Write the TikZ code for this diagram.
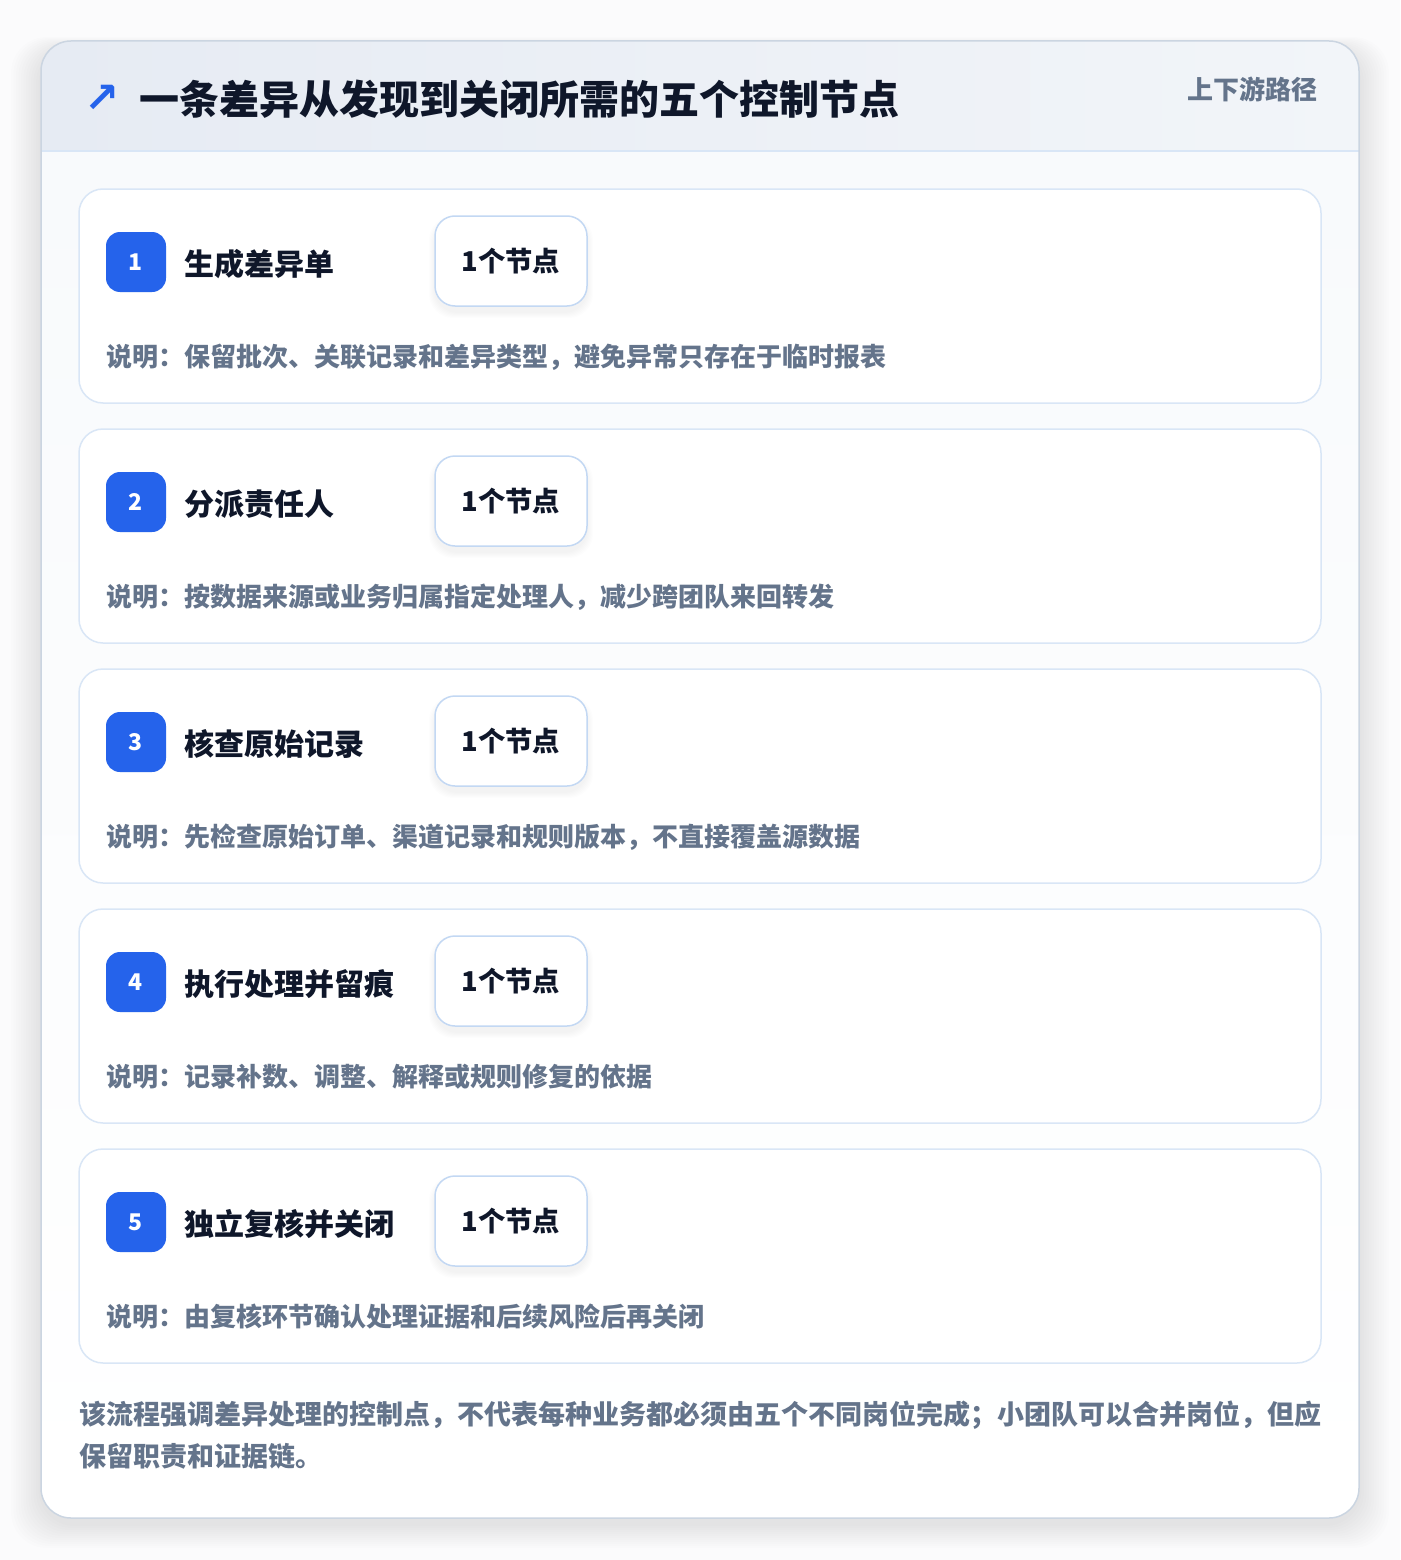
\documentclass[tikz,border=0pt]{standalone}
\usepackage{fontspec}
\newfontfamily\cjk{Noto Sans CJK SC}
\newfontfamily\symf{DejaVu Sans}
\definecolor{accent}{HTML}{2563EB}
\definecolor{ink}{HTML}{0F172A}
\definecolor{muted}{HTML}{64748B}
\definecolor{cardline}{HTML}{D9E6F6}
\definecolor{pillline}{HTML}{C3D8F3}
\definecolor{outerline}{HTML}{CBD5E1}
\definecolor{headL}{HTML}{E6EBF3}
\definecolor{headR}{HTML}{F2F5F9}
\definecolor{bodyfill}{HTML}{F8FAFC}
\definecolor{pagebg}{HTML}{FBFBFC}
\tikzset{
  card/.style={draw=cardline, line width=1.5pt, fill=white, rounded corners=24pt},
  badge/.style={fill=accent, rounded corners=14pt, minimum width=60pt, minimum height=60pt, inner sep=0pt, text=white, font=\cjk\bfseries\fontsize{23}{26}\selectfont},
  ctitle/.style={anchor=west, inner sep=0pt, text=ink, font=\cjk\bfseries\fontsize{30}{36}\selectfont},
  pill/.style={draw=pillline, line width=1.5pt, fill=white, rounded corners=20pt, minimum width=152pt, minimum height=90pt, inner sep=0pt, text=ink, font=\cjk\bfseries\fontsize{27.3}{32}\selectfont},
  desc/.style={anchor=west, inner sep=0pt, text=muted, font=\cjk\bfseries\fontsize{26}{30}\selectfont},
  foot/.style={anchor=west, inner sep=0pt, text=muted, font=\cjk\bfseries\fontsize{27}{32}\selectfont},
}
\begin{document}
\begin{tikzpicture}[x=1pt,y=-1pt]
\useasboundingbox (0,0) rectangle (1400,1560);
\fill[pagebg] (0,0) rectangle (1400,1560);
% outer shadow
\foreach \k in {1,...,12}{
  \fill[black, opacity=0.007, rounded corners=36pt] (41-2.5*\k,41-1*\k+8) rectangle (1359+2.5*\k,1518+2*\k+6);
}
% outer card
\fill[white, rounded corners=30pt] (41,41) rectangle (1359,1518);
\begin{scope}
  \clip[rounded corners=30pt] (41,41) rectangle (1359,1518);
  \shade[top color=bodyfill, bottom color=white] (41,151) rectangle (1359,1518);
  \shade[left color=headL, right color=headR] (41,41) rectangle (1359,151);
  \draw[cardline, line width=1.5pt] (41,151) -- (1359,151);
\end{scope}
\draw[outerline, line width=1.5pt, rounded corners=30pt] (41,41) rectangle (1359,1518);
% header
\node[inner sep=0pt, text=accent, font=\symf\bfseries\fontsize{42}{46}\selectfont] (arrow) at (102,99) {↗};
\node[anchor=west, inner sep=0pt, text=ink, font=\cjk\bfseries\fontsize{40}{46}\selectfont] (title) at (139,99) {一条差异从发现到关闭所需的五个控制节点};
\node[anchor=east, inner sep=0pt, text=muted, font=\cjk\bfseries\fontsize{26}{30}\selectfont] (tag) at (1318,89) {上下游路径};
% cards
\foreach \i/\t/\d in {
  1/生成差异单/说明：保留批次、关联记录和差异类型，避免异常只存在于临时报表,
  2/分派责任人/说明：按数据来源或业务归属指定处理人，减少跨团队来回转发,
  3/核查原始记录/说明：先检查原始订单、渠道记录和规则版本，不直接覆盖源数据,
  4/执行处理并留痕/说明：记录补数、调整、解释或规则修复的依据,
  5/独立复核并关闭/说明：由复核环节确认处理证据和后续风险后再关闭}{
  \pgfmathsetmacro{\yy}{189+(\i-1)*240}
  \draw[card] (79,\yy) rectangle (1321,\yy+214);
  \coordinate (card\i) at (700,\yy+107);
  \node[badge] (badge\i) at (136,\yy+73) {\i};
  \node[ctitle] (ttl\i) at (184,\yy+75) {\t};
  \foreach \s in {1,...,6}{
    \fill[black, opacity=0.008, rounded corners=24pt] (435-\s,\yy+28-\s+5) rectangle (587+\s,\yy+118+\s+5);
  }
  \node[pill] (pill\i) at (511,\yy+72) {1个节点};
  \node[desc] (desc\i) at (106,\yy+168) {\d};
}
% footer
\node[foot] (foot1) at (79,1415) {该流程强调差异处理的控制点，不代表每种业务都必须由五个不同岗位完成；小团队可以合并岗位，但应};
\node[foot] (foot2) at (79,1456) {保留职责和证据链。};
\end{tikzpicture}
\end{document}
